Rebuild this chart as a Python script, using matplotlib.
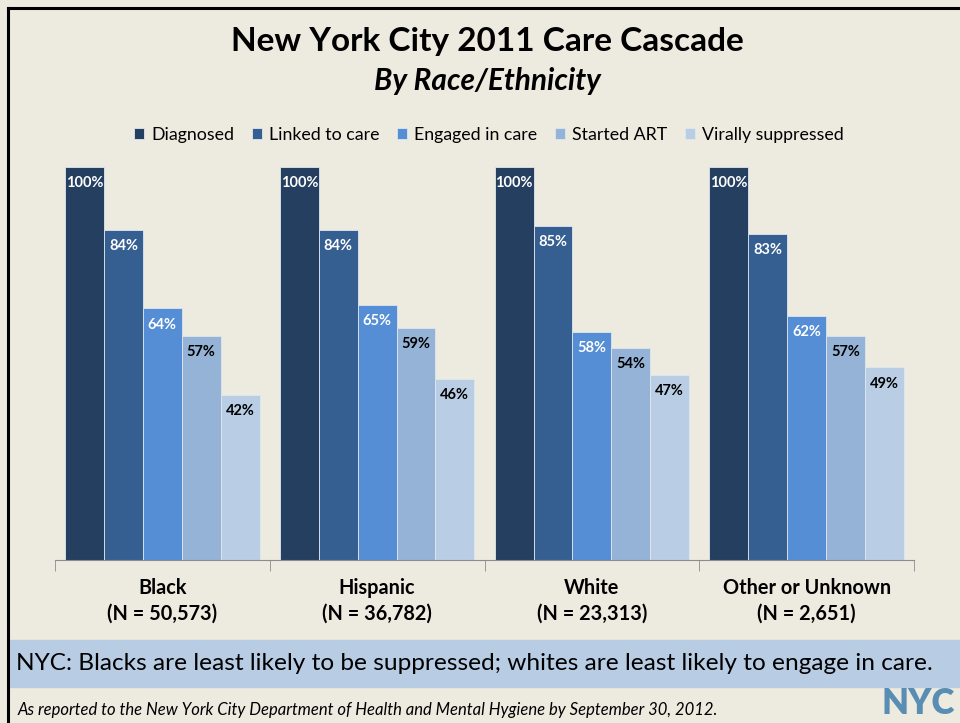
import numpy as np
import matplotlib.pyplot as plt
from matplotlib.lines import Line2D
from matplotlib.patches import Rectangle

# --- data ---
groups = ["Black\n(N = 50,573)", "Hispanic\n(N = 36,782)", "White\n(N = 23,313)",
          "Other or Unknown\n(N = 2,651)"]
stages = ["Diagnosed", "Linked to care", "Engaged in care", "Started ART", "Virally suppressed"]
diagnosed = [100, 100, 100, 100]
linked = [84, 84, 85, 83]
engaged = [64, 65, 58, 62]
started_art = [57, 59, 54, 57]
suppressed = [42, 46, 47, 49]
series = [diagnosed, linked, engaged, started_art, suppressed]

colors = ["#253F60", "#365F91", "#558ED5", "#95B3D7", "#B9CDE5"]
label_colors = ["white", "white", "white", "black", "black"]
bg = "#EDEAE0"

plt.rcParams['font.family'] = ['Lato', 'DejaVu Sans']

fig = plt.figure(figsize=(9.6, 7.23), dpi=100, facecolor=bg)

# frame lines along top and left edge
fig.add_artist(Line2D([8 / 960, 1], [1 - 8 / 723, 1 - 8 / 723], color="black", lw=2.2,
                      transform=fig.transFigure))
fig.add_artist(Line2D([8 / 960, 8 / 960], [0, 1 - 8 / 723], color="black", lw=2.2,
                      transform=fig.transFigure))

ax = fig.add_axes([55 / 960, (723 - 560) / 723, 859 / 960, 393 / 723])
ax.set_facecolor(bg)

x = np.arange(len(groups))
w = 0.181
for i, (vals, c, lc) in enumerate(zip(series, colors, label_colors)):
    xs = x + (i - 2) * w
    bars = ax.bar(xs, vals, width=w, color=c, edgecolor="#dfe6ef", linewidth=0.6,
                  label=stages[i])
    for b, v in zip(bars, vals):
        ax.text(b.get_x() + b.get_width() / 2, v - 4.1, f"{v}%", ha="center", va="center",
                color=lc, fontsize=10.5, fontweight="bold")

ax.set_xlim(-0.5, len(groups) - 0.5)
ax.set_ylim(0, 100)
for s in ["top", "right", "left"]:
    ax.spines[s].set_visible(False)
ax.spines["bottom"].set_color("#8c8c8c")
ax.set_yticks([])
ax.set_xticks(x)
ax.set_xticklabels(groups, fontsize=14.3, fontweight="bold", linespacing=1.35)
ax.set_xticks(np.arange(-0.5, len(groups)), minor=True)
ax.tick_params(axis="x", which="major", length=0, pad=13)
ax.tick_params(axis="x", which="minor", length=8, color="#8c8c8c", direction="out")

# legend
ax.legend(loc="lower center", bbox_to_anchor=(0.505, 1.02), ncol=5, frameon=False,
          fontsize=12.8, handlelength=0.55, handleheight=0.55, handletextpad=0.4,
          columnspacing=1.0)

# titles
fig.text(487 / 960, 1 - 42 / 723, "New York City 2011 Care Cascade", ha="center",
         va="center", fontsize=24, fontweight="bold")
fig.text(487 / 960, 1 - 81 / 723, "By Race/Ethnicity", ha="center", va="center",
         fontsize=21.5, fontweight="bold", style="italic")

# summary banner
fig.add_artist(Rectangle((9 / 960, 1 - 687 / 723), 1, 47 / 723, color="#B8CCE4",
                         transform=fig.transFigure, zorder=0))
fig.text(16 / 960, 1 - 664 / 723,
         "NYC: Blacks are least likely to be suppressed; whites are least likely to engage in care.",
         ha="left", va="center", fontsize=17.6)

fig.text(18 / 960, 1 - 710 / 723,
         "As reported to the New York City Department of Health and Mental Hygiene by September 30, 2012.",
         ha="left", va="center", fontsize=12.0, style="italic")

# agency mark in the lower right corner
fig.text(882 / 960, 1 - 704 / 723, "NYC", ha="left", va="center", fontsize=25,
         fontweight="heavy", color="#5A8DB3")

fig.savefig("out.png", dpi=100, facecolor=bg)
